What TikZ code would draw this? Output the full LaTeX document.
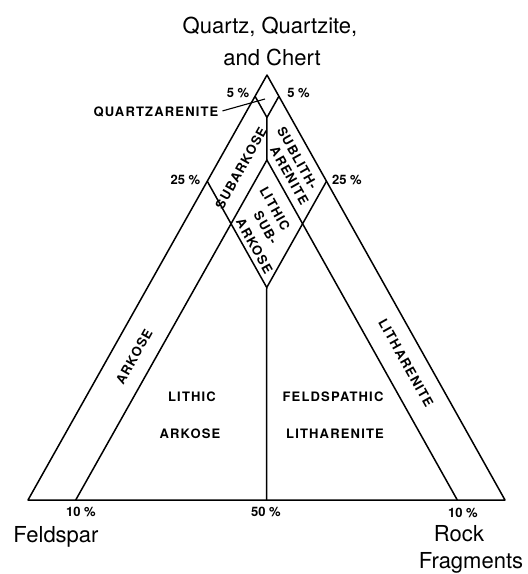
\documentclass[tikz,border=0pt]{standalone}
\usepackage{fontspec}
\setmainfont{TeX Gyre Heros}
\begin{document}
\begin{tikzpicture}[x=1pt,y=-1pt,
  edge/.style={line width=1.5pt, line join=round},
  big/.style={font=\fontsize{22}{26}\selectfont, inner sep=0pt, anchor=base},
  lab/.style={font=\fontsize{13}{15}\selectfont\bfseries\addfontfeature{LetterSpace=9}, inner sep=0pt},
  pct/.style={font=\fontsize{13}{15}\selectfont\bfseries, inner sep=0pt},
  upl/.style={lab, rotate=60.7},
  dnl/.style={lab, rotate=-60.7}]
\useasboundingbox (0,0) rectangle (528,574);
\coordinate (F) at (28,500);
\coordinate (R) at (505,500);
\coordinate (Q) at (267,75);
\coordinate (f5) at (barycentric cs:Q=0.95,F=0.05);
\coordinate (r5) at (barycentric cs:Q=0.95,R=0.05);
\coordinate (V) at (barycentric cs:Q=0.9,F=0.05,R=0.05);
\coordinate (dT) at (barycentric cs:Q=0.8,F=0.1,R=0.1);
\coordinate (dB) at (barycentric cs:Q=0.5,F=0.25,R=0.25);
\coordinate (f25) at (barycentric cs:Q=0.75,F=0.25);
\coordinate (r25) at (barycentric cs:Q=0.75,R=0.25);
\coordinate (b10L) at (barycentric cs:F=0.9,R=0.1);
\coordinate (b10R) at (barycentric cs:F=0.1,R=0.9);
\coordinate (b50) at (barycentric cs:F=0.5,R=0.5);
% lines
\draw[edge] (F) -- (R) -- (Q) -- cycle;
\draw[edge] (f5) -- (V) -- (r5);
\draw[edge] (V) -- (dT);
\draw[edge] (f25) -- (dB) -- (r25);
\draw[edge] (b10L) -- (dT) -- (b10R);
\draw[edge] (dB) -- (b50);
% big labels
\node[big] (t1) at (270,33) {Quartz, Quartzite,};
\node[big] (t2) at (272,65) {and Chert};
\node[big] (fs) at (56,542) {Feldspar};
\node[big] (rk) at (459,541) {Rock};
\node[big] (fr) at (471,568) {Fragments};
% percents
\node[pct] (p5l) at (238,93) {5 \%};
\node[pct] (p5r) at (298.5,93) {5 \%};
\node[pct] (p25l) at (185.5,180) {25 \%};
\node[pct] (p25r) at (347,180) {25 \%};
\node[pct] (p10l) at (81,512) {10 \%};
\node[pct] (p50) at (266,512) {50 \%};
\node[pct] (p10r) at (463,513) {10 \%};
% quartzarenite with leader
\node[lab] (qa) at (156,112) {QUARTZARENITE};
\coordinate (qaend) at (265,99);
\draw[line width=1.1pt, shorten <=4pt] (qa.east) -- (qaend);
% region labels
\node[upl] (sa) at (241,168) {SUBARKOSE};
\node[upl] (ak) at (134,357) {ARKOSE};
\node[dnl] (sl1) at (297.5,158) {SUBLITH-};
\node[dnl] (sl2) at (289.5,175.5) {ARENITE};
\node[dnl] (ls1) at (275,208.5) {LITHIC};
\node[dnl] (ls2) at (266,227.5) {SUB-};
\node[dnl] (ls3) at (254.5,246) {ARKOSE};
\node[dnl] (lt) at (406,363) {LITHARENITE};
\node[lab] (la1) at (192,397) {LITHIC};
\node[lab] (la2) at (190,434) {ARKOSE};
\node[lab] (fl1) at (333,397) {FELDSPATHIC};
\node[lab] (fl2) at (335,434) {LITHARENITE};
\end{tikzpicture}
\end{document}
